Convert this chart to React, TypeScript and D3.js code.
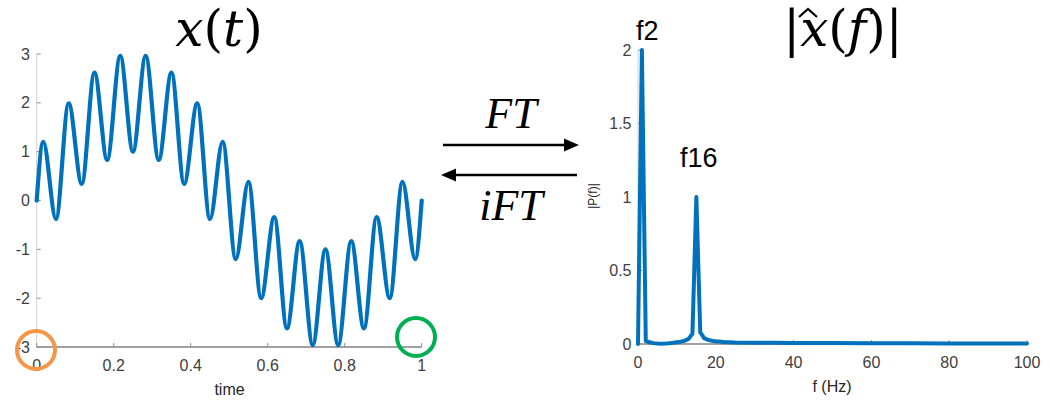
import React from "react";
import * as d3 from "d3";

// time-domain signal: extrema (t, value)
const sigT = [0, 0.017, 0.05, 0.083, 0.117, 0.15, 0.183, 0.217, 0.25, 0.283, 0.317, 0.35, 0.383, 0.417, 0.45, 0.483, 0.517, 0.55, 0.583, 0.617, 0.65, 0.683, 0.717, 0.75, 0.783, 0.817, 0.85, 0.883, 0.917, 0.95, 0.983, 1.0];
const sigV = [0, 1.2, -0.38, 1.99, 0.34, 2.62, 0.83, 2.96, 1.0, 2.96, 0.83, 2.62, 0.34, 1.99, -0.38, 1.2, -1.2, 0.38, -2.0, -0.34, -2.62, -0.83, -2.96, -1.0, -2.96, -0.83, -2.62, -0.34, -2.0, 0.38, -1.2, 0];

// spectrum
const freqs = [0, 1, 2, 3, 4, 5, 6, 7, 8, 9, 10, 11, 12, 13, 14, 15, 16, 17, 18, 19, 20, 22, 25, 30, 35, 40, 50, 60, 70, 80, 90, 100];
const mags = [0, 2.0, 0.02, 0.012, 0.006, 0.003, 0.002, 0.003, 0.005, 0.008, 0.012, 0.016, 0.022, 0.035, 0.07, 1.0, 0.08, 0.04, 0.028, 0.022, 0.018, 0.014, 0.011, 0.009, 0.008, 0.007, 0.006, 0.005, 0.005, 0.004, 0.004, 0.004];

const leftXTicks = [0, 0.2, 0.4, 0.6, 0.8, 1];
const leftYTicks = [-3, -2, -1, 0, 1, 2, 3];
const rightXTicks = [0, 20, 40, 60, 80, 100];
const rightYTicks = [0, 0.5, 1, 1.5, 2];

const BLUE = "#0072BD";
const TICK = "#404040";
const SANS = "Liberation Sans, Arial, sans-serif";
const SERIF = "Liberation Serif, Times New Roman, serif";
const MATH = "DejaVu Serif, serif";

export default function App() {
  const xL = d3.scaleLinear().domain([0, 1]).range([36.7, 421.7]);
  const yL = d3.scaleLinear().domain([-3, 3]).range([347, 54]);
  const xR = d3.scaleLinear().domain([0, 100]).range([638, 1027]);
  const yR = d3.scaleLinear().domain([0, 2]).range([344, 50]);

  const sigPath = d3
    .line<number>()
    .x((_, i) => xL(sigT[i]))
    .y((d) => yL(d))
    .curve(d3.curveMonotoneX)(sigV) as string;

  const specPath = d3
    .line<number>()
    .x((_, i) => xR(freqs[i]))
    .y((d) => yR(d))(mags) as string;

  return (
    <svg width={1050} height={404} style={{ position: "absolute", left: 0, top: 0, background: "#fff" }}>
      {/* Left axes */}
      <line x1={xL(0)} x2={xL(0)} y1={yL(-3)} y2={yL(3)} stroke="#d0d0d0" strokeWidth={1} />
      <line x1={xL(0)} x2={xL(1)} y1={yL(-3)} y2={yL(-3)} stroke="#808080" strokeWidth={1.5} />
      {leftYTicks.map((t) => (
        <g key={"ly" + t}>
          <line x1={xL(0)} x2={xL(0) + 4} y1={yL(t)} y2={yL(t)} stroke="#909090" />
          <text x={30} y={yL(t) + 5.5} textAnchor="end" fontFamily={SANS} fontSize={16} fill={TICK}>
            {t}
          </text>
        </g>
      ))}
      {leftXTicks.map((t) => (
        <g key={"lx" + t}>
          <line x1={xL(t)} x2={xL(t)} y1={yL(-3)} y2={yL(-3) - 4} stroke="#909090" />
          <text x={xL(t)} y={371} textAnchor="middle" fontFamily={SANS} fontSize={16} fill={TICK}>
            {t}
          </text>
        </g>
      ))}
      <text x={229.5} y={395} textAnchor="middle" fontFamily={SANS} fontSize={16} fill="#262626">
        time
      </text>
      <path d={sigPath} fill="none" stroke={BLUE} strokeWidth={4.2} strokeLinejoin="round" strokeLinecap="round" />

      {/* Right axes */}
      <line x1={xR(0)} x2={xR(0)} y1={yR(0)} y2={yR(2)} stroke="#d0d0d0" strokeWidth={1} />
      <line x1={xR(0)} x2={xR(100)} y1={yR(0)} y2={yR(0)} stroke="#808080" strokeWidth={1.5} />
      {rightYTicks.map((t) => (
        <g key={"ry" + t}>
          <line x1={xR(0)} x2={xR(0) + 4} y1={yR(t)} y2={yR(t)} stroke="#909090" />
          <text x={631.5} y={yR(t) + 5.5} textAnchor="end" fontFamily={SANS} fontSize={16} fill={TICK}>
            {t}
          </text>
        </g>
      ))}
      {rightXTicks.map((t) => (
        <g key={"rx" + t}>
          <line x1={xR(t)} x2={xR(t)} y1={yR(0)} y2={yR(0) - 4} stroke="#909090" />
          <text x={xR(t)} y={368} textAnchor="middle" fontFamily={SANS} fontSize={16} fill={TICK}>
            {t}
          </text>
        </g>
      ))}
      <text x={832} y={392} textAnchor="middle" fontFamily={SANS} fontSize={16} fill="#262626">
        f (Hz)
      </text>
      <text
        transform="translate(597,196) rotate(-90)"
        textAnchor="middle"
        fontFamily={SANS}
        fontSize={12}
        fill="#262626"
      >
        |P(f)|
      </text>
      <path d={specPath} fill="none" stroke={BLUE} strokeWidth={4} strokeLinejoin="round" strokeLinecap="round" />
      <text x={636} y={40} fontFamily={SANS} fontSize={27} fill="#000">
        f2
      </text>
      <text x={680} y={167} fontFamily={SANS} fontSize={27} fill="#000">
        f16
      </text>

      {/* Titles */}
      <text x={219} y={46} textAnchor="middle" fontFamily={MATH} fontSize={50} fill="#000">
        <tspan fontStyle="italic">x</tspan>
        <tspan>(</tspan>
        <tspan fontStyle="italic">t</tspan>
        <tspan>)</tspan>
      </text>
      <text x={843} y={46} textAnchor="middle" fontFamily={MATH} fontSize={50} fill="#000">
        <tspan>|</tspan>
        <tspan fontStyle="italic">x</tspan>
        <tspan>(</tspan>
        <tspan fontStyle="italic">f</tspan>
        <tspan>)|</tspan>
      </text>
      <path d="M 799 17 L 808 9 L 817 17" fill="none" stroke="#000" strokeWidth={2.2} />

      {/* Arrows */}
      <text x={511} y={128} textAnchor="middle" fontFamily={SERIF} fontStyle="italic" fontSize={44} fill="#000">
        FT
      </text>
      <line x1={443} x2={566} y1={145} y2={145} stroke="#000" strokeWidth={2.5} />
      <path d="M 579 145 L 564 138.5 L 564 151.5 Z" fill="#000" />
      <line x1={455} x2={577} y1={175} y2={175} stroke="#000" strokeWidth={2.5} />
      <path d="M 441 175 L 456 168.5 L 456 181.5 Z" fill="#000" />
      <text x={511} y={220} textAnchor="middle" fontFamily={SERIF} fontStyle="italic" fontSize={44} fill="#000">
        iFT
      </text>

      {/* Circles */}
      <circle cx={36} cy={350} r={19} fill="none" stroke="#F79646" strokeWidth={4} />
      <circle cx={416} cy={337} r={19} fill="none" stroke="#00B050" strokeWidth={4} />
    </svg>
  );
}
